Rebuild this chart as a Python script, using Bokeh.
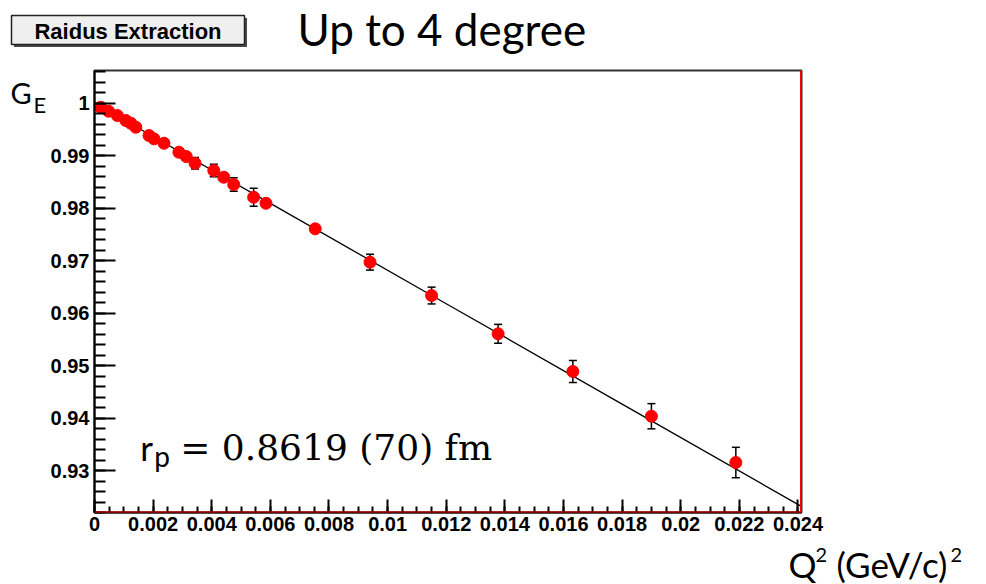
import numpy as np
from bokeh.plotting import figure
from bokeh.layouts import column, row
from bokeh.models import (ColumnDataSource, Whisker, TeeHead, Label, Span,
                          FixedTicker, PrintfTickFormatter, Range1d)
from bokeh.embed import file_html
from bokeh.resources import INLINE

# ---- data ----
q2 = [0.00021, 0.00048, 0.00078, 0.00107, 0.00124, 0.00141, 0.00186, 0.00203,
      0.00237, 0.00288, 0.00313, 0.00343, 0.00407, 0.00441, 0.00475, 0.00543,
      0.00585, 0.00753, 0.00940, 0.01150, 0.01377, 0.01632, 0.01900, 0.02188]
ge = [0.99920, 0.99844, 0.99762, 0.99667, 0.99615, 0.99539, 0.99381, 0.99318,
      0.99234, 0.99063, 0.98981, 0.98853, 0.98714, 0.98587, 0.98448, 0.98206,
      0.98091, 0.97604, 0.96968, 0.96333, 0.95604, 0.94886, 0.94034, 0.93152]
ge_err = [0.0005, 0.0005, 0.0005, 0.0005, 0.0005, 0.0005, 0.0005, 0.0005,
          0.0005, 0.0005, 0.0005, 0.0011, 0.0012, 0.0006, 0.0013, 0.0017,
          0.0006, 0.0006, 0.0015, 0.0016, 0.0018, 0.0021, 0.0024, 0.0029]

fit_q2 = [0.0001, 0.006, 0.012, 0.018, 0.0241]
fit_ge = [0.99968, 0.98088, 0.96177, 0.94265, 0.92322]

x_ticks = [0, 0.002, 0.004, 0.006, 0.008, 0.01, 0.012, 0.014, 0.016, 0.018,
           0.02, 0.022, 0.024]
y_ticks = [0.93, 0.94, 0.95, 0.96, 0.97, 0.98, 0.99, 1.0]

X_START, X_END = 0.0, 0.02412
Y_START, Y_END = 0.922, 1.0062

# ---- page geometry (canvas pixels) ----
W = 986
TOP_H = 68          # header strip height
LEFT_W = 47         # strip left of the main plot (holds G_E)
MAIN_BOTTOM = 540   # canvas y where the main plot ends
H = 584
FL, FR, FT, FB = 92, 801, 70, 512   # frame edges
BASE_SHIFT = 0.38   # label baseline correction (fraction of font size)


def text_fig(x0, x1, y0, y1):
    f = figure(width=x1 - x0, height=y1 - y0, output_backend="svg",
               toolbar_location=None, x_axis_type=None, y_axis_type=None,
               x_range=Range1d(x0, x1), y_range=Range1d(y1, y0),
               min_border=0)
    f.grid.visible = False
    f.outline_line_color = None
    f.background_fill_color = "white"
    f.border_fill_color = "white"
    return f


def lab(fig, text, cx, base_y, font, size_px, conv=None, align="left", **kw):
    """Place text so that its baseline sits near canvas y = base_y."""
    kw.setdefault("text_color", "black")
    y = base_y - BASE_SHIFT * size_px
    if conv is not None:
        cx, y = conv(cx, y)
    fig.add_layout(Label(x=cx, y=y, text=text, text_font=font,
                         text_font_size=f"{size_px}px", text_align=align,
                         text_baseline="alphabetic", **kw))


# ---- header strip ----
top = text_fig(0, W, 0, TOP_H)
top.quad(left=[13.5], right=[246.5], top=[17.5], bottom=[46.5],
         fill_color="#4a4a4a", line_color=None)
top.quad(left=[11], right=[244], top=[15], bottom=[44],
         fill_color="#efefef", line_color="#222222", line_width=1.5)
lab(top, "Raidus Extraction", 127.5, 39, "Liberation Sans", 22,
    align="center", text_font_style="bold")
lab(top, "Up to 4 degree", 297, 45, "Lato", 44)

# ---- left strip (G_E) ----
left = text_fig(0, LEFT_W, TOP_H, MAIN_BOTTOM)
lab(left, "G", 10, 103, "Lato", 29)
lab(left, "E", 33, 113, "Lato", 22)

# ---- bottom strip (x axis title) ----
bottom = text_fig(0, W, MAIN_BOTTOM, H)
lab(bottom, "Q", 788, 577, "Lato", 35)
lab(bottom, "2", 815, 562, "Lato", 20)
lab(bottom, "(GeV/c)", 836, 577, "Lato", 35)
lab(bottom, "2", 950, 562, "Lato", 20)

# ---- main plot ----
src = ColumnDataSource(dict(
    x=q2, y=ge,
    upper=[a + b for a, b in zip(ge, ge_err)],
    lower=[a - b for a, b in zip(ge, ge_err)],
))

p = figure(width=W - LEFT_W, height=MAIN_BOTTOM - TOP_H, output_backend="svg",
           toolbar_location=None,
           x_range=Range1d(X_START, X_END), y_range=Range1d(Y_START, Y_END),
           min_border_left=FL - LEFT_W, min_border_right=W - FR,
           min_border_top=FT - TOP_H, min_border_bottom=MAIN_BOTTOM - FB)
p.grid.visible = False
p.background_fill_color = "white"
p.border_fill_color = "white"
p.outline_line_color = "#333333"
p.outline_line_width = 2

for ax in (p.xaxis[0], p.yaxis[0]):
    ax.axis_line_color = "black"
    ax.axis_line_width = 2
    ax.major_tick_out = 0
    ax.minor_tick_out = 0
    ax.major_tick_line_color = "black"
    ax.minor_tick_line_color = "black"
    ax.major_tick_line_width = 2
    ax.minor_tick_line_width = 2
    ax.major_label_text_font = "Liberation Sans"
    ax.major_label_text_font_style = "bold"
    ax.major_label_text_font_size = "20px"
    ax.major_label_text_color = "black"
    ax.formatter = PrintfTickFormatter(format="%g")

p.xaxis.ticker = FixedTicker(ticks=x_ticks,
                             minor_ticks=list(np.round(np.arange(0, 0.02413, 0.0005), 5)))
p.xaxis.major_tick_in = 13
p.xaxis.minor_tick_in = 6
p.xaxis.major_label_standoff = 4

p.yaxis.ticker = FixedTicker(ticks=y_ticks,
                             minor_ticks=list(np.round(np.arange(0.922, 1.0063, 0.002), 4)))
p.yaxis.major_tick_in = 21
p.yaxis.minor_tick_in = 11
p.yaxis.major_label_standoff = 5

# red frame edges
p.add_layout(Span(location=Y_START, dimension="width", line_color="red", line_width=2))
p.add_layout(Span(location=X_END, dimension="height", line_color="red", line_width=3))

# fit line
p.line(fit_q2, fit_ge, line_color="black", line_width=1.3)

# error bars and points
p.add_layout(Whisker(source=src, base="x", upper="upper", lower="lower",
                     line_color="black", line_width=1.5, level="underlay",
                     upper_head=TeeHead(size=8, line_color="black", line_width=1.5),
                     lower_head=TeeHead(size=8, line_color="black", line_width=1.5)))
p.scatter("x", "y", source=src, size=12, marker="circle",
          fill_color="red", line_color="red")


# canvas pixel -> data for the in-frame annotation
def to_data(px, py):
    return (X_START + (px - FL) / (FR - FL) * (X_END - X_START),
            Y_END - (py - FT) / (FB - FT) * (Y_END - Y_START))


lab(p, "r", 138, 460, "Lato", 35, conv=to_data)
lab(p, "p", 152, 466, "Lato", 28, conv=to_data)
lab(p, "= 0.8619 (70) fm", 178, 461, "DejaVu Serif", 36, conv=to_data)

layout = column(top, row(left, p), bottom)
open("out.html", "w").write(file_html(layout, INLINE))
